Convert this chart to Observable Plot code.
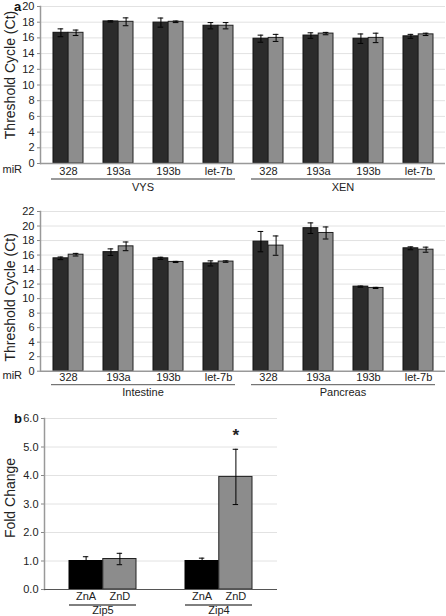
<!DOCTYPE html>
<html><head><meta charset="utf-8">
<script src="https://cdn.jsdelivr.net/npm/d3@7"></script>
<script src="https://cdn.jsdelivr.net/npm/@observablehq/plot@0.6"></script>
<style>
body{margin:0;background:#fff;font-family:"Liberation Sans",Arial,sans-serif;}
#c{position:relative;width:446px;height:616px;overflow:hidden;background:#fff}
.p{position:absolute;left:0}
.lt{position:absolute;font-weight:bold;font-size:13px;color:#111;line-height:13px}
</style></head><body><div id="c"></div>
<script>
// ---- data ----
const miR = ["328","193a","193b","let-7b"];

const groupsA1 = ["VYS","XEN"];
const darkA1    = [16.65,18.1,17.95,17.55, 15.9,16.3,15.9,16.2];
const darkErrA1 = [0.5,0.08,0.58,0.4, 0.45,0.35,0.6,0.25];
const grayA1    = [16.65,18.05,18.05,17.55, 16.0,16.55,16.0,16.45];
const grayErrA1 = [0.35,0.5,0.1,0.4, 0.45,0.15,0.6,0.15];

const groupsA2 = ["Intestine","Pancreas"];
const darkA2    = [15.55,16.4,15.55,14.85, 17.85,19.7,11.65,16.93];
const darkErrA2 = [0.18,0.45,0.15,0.35, 1.4,0.73,0.08,0.2];
const grayA2    = [16.05,17.2,15.05,15.1, 17.3,19.04,11.47,16.74];
const grayErrA2 = [0.18,0.6,0.08,0.1, 1.33,0.83,0.08,0.35];

const genesB = ["Zip5","Zip4"];
const condB  = ["ZnA","ZnD"];
const valB   = [[1.0,1.07],[1.0,3.95]];
const errB   = [[0.15,0.2],[0.1,0.97]];
const sigB   = [["",""],["","*"]];

const FONT = "Liberation Sans, Arial, sans-serif";
const container = document.getElementById("c");

function place(node, top, left) {
  node.classList.add("p");
  node.style.top = top + "px";
  node.style.left = (left || 0) + "px";
  container.appendChild(node);
}

function groupMark(groups, cats, lineOff, textOff, stroke, sw, ext) {
  return (index, scales) => {
    const g = d3.create("svg:g");
    const x = scales.x;
    const bw = typeof x.bandwidth === "function" ? x.bandwidth() : x.bandwidth;
    const y0 = scales.y(0);
    for (const grp of groups) {
      const first = cats ? grp + "|" + cats[0] : grp;
      const last = cats ? grp + "|" + cats[cats.length - 1] : grp;
      const x1 = x(first) - ext, x2 = x(last) + bw + ext;
      g.append("line").attr("x1", x1).attr("x2", x2)
        .attr("y1", y0 + lineOff).attr("y2", y0 + lineOff)
        .attr("stroke", stroke).attr("stroke-width", sw);
      if (textOff != null) {
        g.append("text").attr("x", (x1 + x2) / 2).attr("y", y0 + textOff)
          .attr("text-anchor", "middle").attr("dy", "0.35em")
          .attr("fill", "currentColor").text(grp);
      }
    }
    return g.node();
  };
}

function barPanel({groups, dark, darkErr, gray, grayErr, yMax, top, height, mt, mb, tickPad, lineOff, textOff, lineColor, lineWidth, labelDy}) {
  const W = 446, ML = 40, MR = 1;
  const keys = groups.flatMap(g => miR.map(m => g + "|" + m));
  const dRows = keys.map((k, i) => ({k, v: dark[i], e: darkErr[i]}));
  const gRows = keys.map((k, i) => ({k, v: gray[i], e: grayErr[i]}));
  const bw = (W - ML - MR) / keys.length * 0.6;
  const h = bw / 2;
  const cap = 3;
  const ticks = d3.range(0, yMax + 1, 2);
  const p = Plot.plot({
    width: W, height, marginLeft: ML, marginRight: MR, marginTop: mt, marginBottom: mb,
    style: {fontFamily: FONT, fontSize: "11px", color: "#222", background: "transparent", overflow: "visible"},
    x: {domain: keys, paddingInner: 0.4, paddingOuter: 0.2},
    y: {domain: [0, yMax]},
    marks: [
      Plot.gridY({ticks: ticks.slice(1), stroke: "#e2e2e2", strokeOpacity: 1}),
      Plot.axisY({ticks, tickSize: 3, tickPadding: 3, label: null, fontSize: 11, stroke: "#888"}),
      Plot.axisX({tickSize: 0, tickPadding: tickPad, label: null, fontSize: 11, tickFormat: d => d.split("|")[1]}),
      Plot.barY(dRows, {x: "k", y: "v", fill: "#2b2b2b", stroke: "#111", strokeWidth: 1, insetRight: h}),
      Plot.barY(gRows, {x: "k", y: "v", fill: "#8d8d8d", stroke: "#222", strokeWidth: 1, insetLeft: h}),
      Plot.ruleX(dRows, {x: "k", y1: d => d.v - d.e, y2: d => d.v + d.e, dx: -h / 2, stroke: "#000"}),
      Plot.ruleX(gRows, {x: "k", y1: d => d.v - d.e, y2: d => d.v + d.e, dx: h / 2, stroke: "#000"}),
      Plot.tickY(dRows, {x: "k", y: d => d.v + d.e, insetLeft: h / 2 - cap, insetRight: 1.5 * h - cap, stroke: "#000"}),
      Plot.tickY(dRows, {x: "k", y: d => d.v - d.e, insetLeft: h / 2 - cap, insetRight: 1.5 * h - cap, stroke: "#000"}),
      Plot.tickY(gRows, {x: "k", y: d => d.v + d.e, insetLeft: 1.5 * h - cap, insetRight: h / 2 - cap, stroke: "#000"}),
      Plot.tickY(gRows, {x: "k", y: d => d.v - d.e, insetLeft: 1.5 * h - cap, insetRight: h / 2 - cap, stroke: "#000"}),
      Plot.frame({anchor: "left", stroke: "#999", strokeWidth: 1.5}),
      Plot.ruleY([0], {stroke: "#999", strokeWidth: 1.5}),
      Plot.text(["miR"], {frameAnchor: "bottom-left", dx: -38, dy: tickPad + 5.5, textAnchor: "start", fontSize: 11}),
      Plot.text(["Threshold Cycle (Ct)"], {frameAnchor: "left", textAnchor: "middle", rotate: -90, dx: -30, dy: labelDy, fontSize: 14}),
      groupMark(groups, miR, lineOff, textOff, lineColor, lineWidth, 2)
    ]
  });
  place(p, top);
}

barPanel({groups: groupsA1, dark: darkA1, darkErr: darkErrA1, gray: grayA1, grayErr: grayErrA1,
  yMax: 20, top: 0, height: 195, mt: 6, mb: 32, tickPad: 4, lineOff: 16, textOff: 24,
  lineColor: "#9a9a9a", lineWidth: 2, labelDy: -10});

barPanel({groups: groupsA2, dark: darkA2, darkErr: darkErrA2, gray: grayA2, grayErr: grayErrA2,
  yMax: 22, top: 200, height: 200, mt: 11, mb: 29.3, tickPad: 2, lineOff: 14, textOff: 21.5,
  lineColor: "#555", lineWidth: 1, labelDy: 6});

// ---- panel b ----
(function () {
  const W = 280, ML = 44, MR = 3;
  const rows = genesB.flatMap((g, i) => condB.map((c, j) => ({g, c, j, v: valB[i][j], e: errB[i][j], s: sigB[i][j]})));
  const a = rows.filter(d => d.j === 0), b = rows.filter(d => d.j === 1);
  const step = (W - ML - MR) / 2;
  const bw = step * 0.58, h = bw / 2, cap = 3;
  const ticks = d3.range(0, 7);
  const p = Plot.plot({
    width: W, height: 211, marginLeft: ML, marginRight: MR, marginTop: 13, marginBottom: 27,
    style: {fontFamily: FONT, fontSize: "11px", color: "#222", background: "transparent", overflow: "visible"},
    x: {domain: genesB, paddingInner: 0.42, paddingOuter: 0.21},
    y: {domain: [0, 6]},
    marks: [
      Plot.gridY({ticks: ticks.slice(1), stroke: "#e2e2e2", strokeOpacity: 1}),
      Plot.axisY({ticks, tickFormat: d3.format(".1f"), tickSize: 3, tickPadding: 3, label: null, fontSize: 11, stroke: "#888"}),
      Plot.axisX({tickSize: 0, tickPadding: 17, label: null, fontSize: 11}),
      Plot.barY(a, {x: "g", y: "v", fill: "#000", stroke: "#000", insetRight: h}),
      Plot.barY(b, {x: "g", y: "v", fill: "#8c8c8c", stroke: "#222", insetLeft: h}),
      Plot.ruleX(a, {x: "g", y1: d => d.v, y2: d => d.v + d.e, dx: -h / 2, stroke: "#000"}),
      Plot.ruleX(b, {x: "g", y1: d => d.v - d.e, y2: d => d.v + d.e, dx: h / 2, stroke: "#000"}),
      Plot.tickY(a, {x: "g", y: d => d.v + d.e, insetLeft: h / 2 - cap, insetRight: 1.5 * h - cap, stroke: "#000"}),
      Plot.tickY(b, {x: "g", y: d => d.v + d.e, insetLeft: 1.5 * h - cap, insetRight: h / 2 - cap, stroke: "#000"}),
      Plot.tickY(b, {x: "g", y: d => d.v - d.e, insetLeft: 1.5 * h - cap, insetRight: h / 2 - cap, stroke: "#000"}),
      Plot.frame({anchor: "left", stroke: "#999", strokeWidth: 1.5}),
      Plot.ruleY([0], {stroke: "#555", strokeWidth: 1}),
      Plot.text(a, {x: "g", text: "c", frameAnchor: "bottom", dy: 10, dx: -h / 2, fontSize: 11}),
      Plot.text(b, {x: "g", text: "c", frameAnchor: "bottom", dy: 10, dx: h / 2, fontSize: 11}),
      Plot.text(b.filter(d => d.s), {x: "g", y: d => d.v + d.e, text: "s", dx: h / 2, dy: -14, fontSize: 17, fontWeight: "bold"}),
      Plot.text(["Fold Change"], {frameAnchor: "left", textAnchor: "middle", rotate: -90, dx: -34, dy: -6, fontSize: 14}),
      groupMark(genesB, null, 16, null, "#000", 1, 0)
    ]
  });
  place(p, 405);
})();

// panel letters
for (const [t, top] of [["a", 0], ["b", 412]]) {
  const d = document.createElement("div");
  d.className = "lt";
  d.textContent = t;
  d.style.left = "14px";
  d.style.top = top + "px";
  container.appendChild(d);
}
</script>
</body></html>
